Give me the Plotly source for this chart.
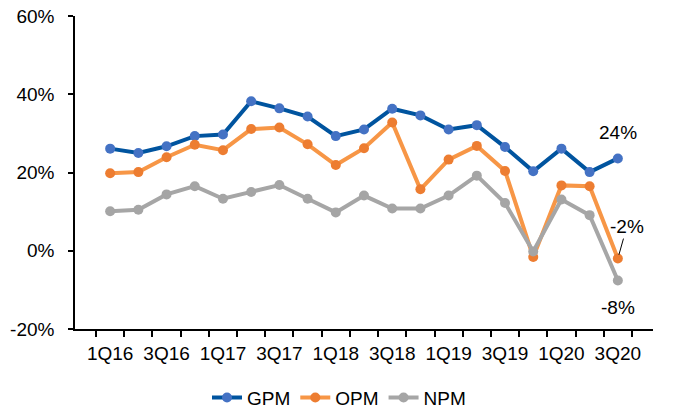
import plotly.graph_objects as go

quarters = ["1Q16", "2Q16", "3Q16", "4Q16", "1Q17", "2Q17", "3Q17", "4Q17",
            "1Q18", "2Q18", "3Q18", "4Q18", "1Q19", "2Q19", "3Q19", "4Q19",
            "1Q20", "2Q20", "3Q20"]
gpm = [26.1, 25.0, 26.7, 29.3, 29.7, 38.2, 36.4, 34.3, 29.3, 31.0, 36.3, 34.6,
       31.0, 32.1, 26.5, 20.3, 26.1, 20.1, 23.6]
opm = [19.8, 20.1, 23.9, 27.1, 25.7, 31.1, 31.5, 27.2, 21.9, 26.2, 32.8, 15.7,
       23.3, 26.8, 20.4, -1.6, 16.7, 16.5, -2.0]
npm = [10.1, 10.5, 14.4, 16.5, 13.3, 15.0, 16.8, 13.3, 9.8, 14.1, 10.8, 10.8,
       14.1, 19.2, 12.2, -0.2, 13.1, 9.1, -7.6]
y_ticks = [-20, 0, 20, 40, 60]
y_tick_text = [f"{v}%" for v in y_ticks]

FONT = "Liberation Sans, Arial, sans-serif"
FS = 19

series = [
    ("GPM", gpm, "#00549F", "#4472C4"),
    ("OPM", opm, "#F79646", "#ED7D31"),
    ("NPM", npm, "#A6A6A6", "#A5A5A5"),
]

fig = go.Figure()
for name, vals, line_c, mark_c in series:
    fig.add_trace(go.Scatter(
        x=quarters, y=vals, name=name, mode="lines+markers",
        line=dict(color=line_c, width=4),
        marker=dict(color=mark_c, size=10),
    ))

last = quarters[-1]
fig.add_annotation(x=last, y=gpm[-1], text=f"{gpm[-1]:.0f}%", showarrow=False,
                   yshift=26, font=dict(size=FS, color="black", family=FONT))
fig.add_annotation(x=last, y=opm[-1], text=f"{opm[-1]:.0f}%", showarrow=True,
                   ax=9, ay=-32, arrowhead=0, arrowwidth=1, arrowcolor="black",
                   standoff=4, font=dict(size=FS, color="black", family=FONT))
fig.add_annotation(x=last, y=npm[-1], text=f"{npm[-1]:.0f}%", showarrow=False,
                   yshift=-27, font=dict(size=FS, color="black", family=FONT))

fig.update_layout(
    width=678, height=410,
    margin=dict(l=75, r=25, t=16, b=81),
    plot_bgcolor="white", paper_bgcolor="white",
    font=dict(family=FONT, size=FS, color="black"),
    showlegend=True,
    legend=dict(orientation="h", xref="container", x=0.5, xanchor="center",
                yref="container", y=0.03, yanchor="middle",
                font=dict(size=FS), itemwidth=30),
    xaxis=dict(
        type="category", tickson="boundaries", ticklabelstep=2, tickangle=0,
        automargin=False, ticklabelstandoff=6,
        showline=True, linecolor="black", linewidth=1.5,
        ticks="outside", ticklen=6, tickcolor="black", tickwidth=1.5,
        showgrid=False, zeroline=False,
    ),
    yaxis=dict(
        range=[-20, 60], tickvals=y_ticks, ticktext=y_tick_text,
        automargin=False, ticklabelstandoff=10,
        showline=True, linecolor="black", linewidth=1.5,
        ticks="outside", ticklen=5, tickcolor="black", tickwidth=1.5,
        showgrid=False, zeroline=False,
    ),
)

fig.write_html("out.html")
